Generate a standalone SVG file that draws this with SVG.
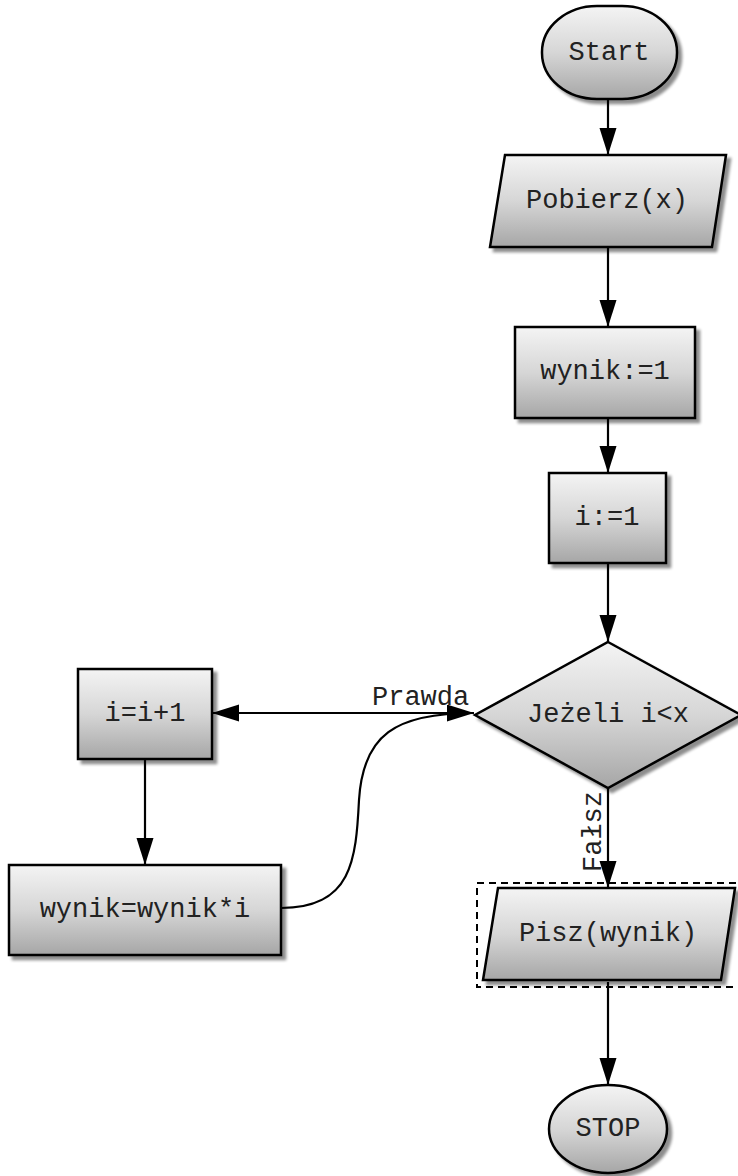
<svg xmlns="http://www.w3.org/2000/svg" width="738" height="1176" viewBox="0 0 738 1176">
<defs>
<linearGradient id="g" x1="0" y1="0" x2="0" y2="1">
<stop offset="0" stop-color="#f4f4f4"/>
<stop offset="0.5" stop-color="#d6d6d6"/>
<stop offset="1" stop-color="#a6a6a6"/>
</linearGradient>
<filter id="sh" x="-10%" y="-10%" width="130%" height="130%">
<feGaussianBlur in="SourceAlpha" stdDeviation="1.5"/>
<feOffset dx="4" dy="4" result="o"/>
<feComponentTransfer><feFuncA type="linear" slope="0.45"/></feComponentTransfer>
<feMerge><feMergeNode/><feMergeNode in="SourceGraphic"/></feMerge>
</filter>
<marker id="ah" markerUnits="userSpaceOnUse" markerWidth="28" markerHeight="18" refX="27" refY="8.5" orient="auto">
<path d="M0,0 L27,8.5 L0,17 z" fill="#000"/>
</marker>
</defs>
<style>
.s{fill:url(#g);stroke:#000;stroke-width:2.5;filter:url(#sh)}
.t{font-family:"Liberation Mono","Courier New",monospace;font-size:27px;fill:#222;text-anchor:middle;dominant-baseline:central}
.l{font-family:"Liberation Mono","Courier New",monospace;font-size:27px;fill:#222}
.c{fill:none;stroke:#000;stroke-width:2.2}
</style>
<g id="connectors">
<path class="c" d="M608,100 V155" marker-end="url(#ah)"/>
<path class="c" d="M608,247 V327" marker-end="url(#ah)"/>
<path class="c" d="M608,418 V473" marker-end="url(#ah)"/>
<path class="c" d="M608,563 V642" marker-end="url(#ah)"/>
<path class="c" d="M474,713 H212" marker-end="url(#ah)"/>
<path class="c" d="M145,759 V865" marker-end="url(#ah)"/>
<path class="c" d="M281,908 C352,908 356,860 359,800 C363,735 395,713 474,713" marker-end="url(#ah)"/>
<path class="c" d="M608,788 V888" marker-end="url(#ah)"/>
<path class="c" d="M608,982 V1085" marker-end="url(#ah)"/>
<text class="l" x="372" y="705">Prawda</text>
<text class="l" transform="translate(601,872) rotate(-90)">Fałsz</text>
</g>
<g id="start">
<rect class="s" x="542" y="6" width="135" height="93" rx="55" ry="46"/>
<text class="t" x="609" y="53">Start</text>
</g>
<g id="pobierz">
<polygon class="s" points="505,155 726,155 712,247 490,247"/>
<text class="t" x="607" y="201">Pobierz(x)</text>
</g>
<g id="wynik1">
<rect class="s" x="515" y="327" width="180" height="91"/>
<text class="t" x="605" y="372">wynik:=1</text>
</g>
<g id="i1">
<rect class="s" x="549" y="473" width="117" height="90"/>
<text class="t" x="607" y="518">i:=1</text>
</g>
<g id="decision">
<polygon class="s" points="608,642 741,715 608,788 475,715"/>
<text class="t" x="608" y="715">Jeżeli i&lt;x</text>
</g>
<g id="iinc">
<rect class="s" x="78" y="669" width="134" height="90"/>
<text class="t" x="145" y="714">i=i+1</text>
</g>
<g id="wynikmul">
<rect class="s" x="9" y="865" width="272" height="90"/>
<text class="t" x="145" y="910">wynik=wynik*i</text>
</g>
<g id="pisz">
<polygon class="s" points="498,888 735,888 721,980 483,980"/>
<rect x="477" y="883" width="262" height="104" fill="none" stroke="#000" stroke-width="2" stroke-dasharray="7,5"/>
<text class="t" x="608" y="934">Pisz(wynik)</text>
</g>
<g id="stop">
<ellipse class="s" cx="608" cy="1129" rx="59" ry="44"/>
<text class="t" x="608" y="1129">STOP</text>
</g>
</svg>
